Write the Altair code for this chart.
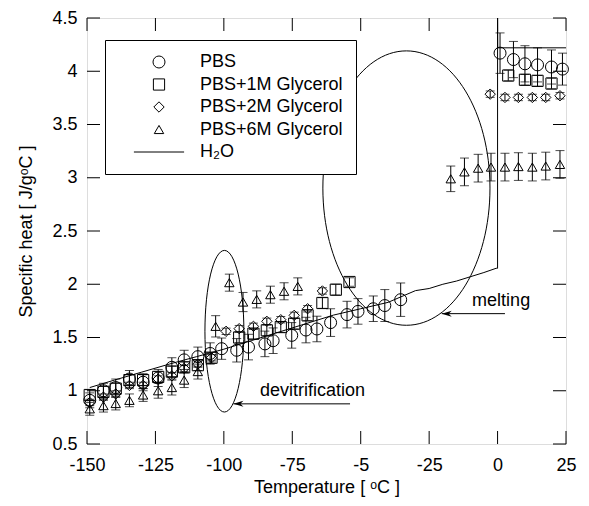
import altair as alt
import pandas as pd

FONT = "Liberation Sans"

# ---------------- data ----------------
series_names = ["PBS", "PBS+1M Glycerol", "PBS+2M Glycerol", "PBS+6M Glycerol", "H\u2082O"]

pbs_t = [-149, -144, -139.5, -134.5, -129.5, -124, -119, -114.5, -109.5, -105, -100.8, -95.3, -91,
         -85, -82, -75.2, -70, -66, -61, -55, -51, -45.4, -41.2, -35.4,
         0.9, 5.8, 10, 14.6, 19.7, 23.7]
pbs_v = [0.91, 1.0, 1.03, 1.11, 1.08, 1.12, 1.22, 1.29, 1.32, 1.35, 1.395, 1.38, 1.41,
         1.44, 1.47, 1.52, 1.57, 1.58, 1.64, 1.715, 1.745, 1.77, 1.80, 1.855,
         4.17, 4.11, 4.07, 4.06, 4.04, 4.02]
pbs_e = [0.07, 0.07, 0.08, 0.08, 0.08, 0.08, 0.09, 0.09, 0.09, 0.1, 0.1, 0.11, 0.12,
         0.12, 0.12, 0.12, 0.12, 0.12, 0.13, 0.125, 0.12, 0.12, 0.15, 0.157,
         0.19, 0.17, 0.17, 0.16, 0.16, 0.15]

g1_t = [-149, -144, -139.5, -134.5, -129.5, -124, -119, -114.5, -109.5, -104.5, -94.4, -89.2,
        -84.3, -79.2, -74.3, -69.4, -64, -59.1, -54.1, 3.9, 10, 14.6, 19.7]
g1_v = [0.96, 0.99, 1.02, 1.10, 1.10, 1.13, 1.18, 1.22, 1.24, 1.31, 1.50, 1.536,
        1.567, 1.598, 1.63, 1.708, 1.824, 1.949, 2.021, 3.96, 3.92, 3.91, 3.885]
g1_e = [0.05, 0.05, 0.05, 0.05, 0.05, 0.05, 0.05, 0.05, 0.05, 0.05, 0.05, 0.05,
        0.05, 0.05, 0.05, 0.05, 0.05, 0.05, 0.04, 0.05, 0.05, 0.05, 0.05]

g2_t = [-149, -144, -139.5, -134.5, -129.5, -124, -119, -114.5, -109.5, -104.5, -99.2, -94.4,
        -89.2, -84.3, -79.2, -74.3, -69.4, -64, -2.7, 2.7, 7.6, 12.7, 17.6, 22.8]
g2_v = [0.89, 0.94, 0.97, 1.05, 1.05, 1.11, 1.14, 1.21, 1.25, 1.31, 1.558, 1.583,
        1.605, 1.652, 1.667, 1.708, 1.77, 1.937, 3.785, 3.754, 3.754, 3.754, 3.754, 3.77]
g2_e = [0.03] * 24

g6_t = [-149, -144, -139.5, -134.5, -129.5, -124, -119, -114.5, -109.5, -103, -98, -93, -88,
        -83, -78, -73, -17.1, -12.1, -7.1, -2.4, 2.7, 7.6, 12.7, 17.6, 22.8]
g6_v = [0.83, 0.86, 0.88, 0.91, 0.96, 1.0, 1.03, 1.10, 1.18, 1.605, 2.015, 1.833, 1.858,
        1.902, 1.934, 1.98, 2.99, 3.055, 3.09, 3.10, 3.10, 3.105, 3.10, 3.11, 3.125]
g6_e = [0.06, 0.06, 0.06, 0.06, 0.06, 0.07, 0.07, 0.07, 0.07, 0.1, 0.08, 0.09, 0.08,
        0.08, 0.08, 0.08, 0.12, 0.13, 0.13, 0.13, 0.13, 0.13, 0.13, 0.13, 0.13]

h2o_t = [-149, -140, -130, -120, -110, -100, -90, -80, -70, -60, -50, -40, -30, -25, -20, -15,
         -10, -5, -0.5, 0, 0, 0.05, 25]
h2o_v = [1.03, 1.10, 1.175, 1.25, 1.32, 1.39, 1.47, 1.55, 1.63, 1.71, 1.77, 1.83, 1.94, 1.96,
         2.0, 2.03, 2.07, 2.11, 2.15, 2.15, 4.5, 4.22, 4.22]

x_ticks = [-150, -125, -100, -75, -50, -25, 0, 25]
x_tick_labels = ["-150", "-125", "-100", "-75", "-5", "-25", "0", "25"]
y_ticks = [0.5, 1, 1.5, 2, 2.5, 3, 3.5, 4, 4.5]
y_tick_labels = ["0.5", "1", "1.5", "2", "2.5", "3", "3.5", "4", "4.5"]

# annotations
ell_t = [-99.8, -33.3]
ell_v = [1.559, 2.903]
ell_shape = ["M-0.241,0A0.241,1 0 1,0 0.241,0A0.241,1 0 1,0 -0.241,0",
             "M-0.609,0A0.609,1 0 1,0 0.609,0A0.609,1 0 1,0 -0.609,0"]
ell_size = [26115, 75295]

arrow_tip_t = [-96.5, -20.4]
arrow_tail_t = [-53.9, 2.7]
arrow_v = [0.877, 1.724]

note_text = ["devitrification", "melting"]
note_t = [-86.8, -9.3]
note_v = [0.955, 1.80]

# ---------------- build tables ----------------
rows = []
for name, ts, vs, es in [(series_names[0], pbs_t, pbs_v, pbs_e),
                         (series_names[1], g1_t, g1_v, g1_e),
                         (series_names[2], g2_t, g2_v, g2_e),
                         (series_names[3], g6_t, g6_v, g6_e)]:
    for t, v, e in zip(ts, vs, es):
        rows.append({"series": name, "T": t, "v": v, "lo": v - e, "hi": v + e})
pts = pd.DataFrame(rows)
h2o = pd.DataFrame({"T": h2o_t, "v": h2o_v, "i": list(range(len(h2o_t)))})
ell = pd.DataFrame({"T": ell_t, "v": ell_v, "shape": ell_shape, "size": ell_size})
arr = pd.DataFrame({"T": arrow_tip_t, "T2": arrow_tail_t, "v": arrow_v})
notes = pd.DataFrame({"T": note_t, "v": note_v, "text": note_text})
xt = pd.DataFrame({"T": x_ticks})
yt = pd.DataFrame({"v": y_ticks})

W, H = 479, 426
TICK = 13

xlabel_expr = "[" + ",".join("'%s'" % s for s in x_tick_labels) + "][indexof([" + \
    ",".join(str(v) for v in x_ticks) + "], datum.value)]"
ylabel_expr = "[" + ",".join("'%s'" % s for s in y_tick_labels) + "][indexof([" + \
    ",".join(str(v) for v in y_ticks) + "], datum.value)]"

xscale = alt.Scale(domain=[-150, 25], nice=False, zero=False)
yscale = alt.Scale(domain=[0.5, 4.5], nice=False, zero=False)
xaxis = alt.Axis(values=x_ticks, labelExpr=xlabel_expr, title="Temperature [ \u1d52C ]",
                 grid=False, ticks=False, tickSize=0, domain=False, labelPadding=12,
                 labelFontSize=18, labelFont=FONT, labelColor="black",
                 titleFontSize=18, titleFont=FONT, titleFontWeight="normal",
                 titleColor="black", titlePadding=4, labelFlush=False)
yaxis = alt.Axis(values=y_ticks, labelExpr=ylabel_expr, title="Specific heat [ J/g\u1d52C ]",
                 grid=False, ticks=False, tickSize=0, domain=False, labelPadding=10,
                 labelFontSize=18, labelFont=FONT, labelColor="black",
                 titleFontSize=18, titleFont=FONT, titleFontWeight="normal",
                 titleColor="black", titlePadding=16, labelFlush=False)

X = alt.X("T:Q", scale=xscale, axis=xaxis)
Y = alt.Y("v:Q", scale=yscale, axis=yaxis)

base = alt.Chart(pts)

err = base.mark_rule(color="black", strokeWidth=1).encode(
    x=X, y=alt.Y("lo:Q", scale=yscale, axis=yaxis), y2="hi:Q")
cap_lo = base.mark_tick(orient="horizontal", size=9, thickness=1, color="black").encode(
    x=X, y=alt.Y("lo:Q", scale=yscale, axis=yaxis))
cap_hi = base.mark_tick(orient="horizontal", size=9, thickness=1, color="black").encode(
    x=X, y=alt.Y("hi:Q", scale=yscale, axis=yaxis))

legend = alt.Legend(title=None, orient="none", legendX=18, legendY=22,
                    strokeColor="black", fillColor="white", padding=13,
                    labelFontSize=18, labelFont=FONT, labelColor="black",
                    rowPadding=4.5, symbolOffset=32, labelOffset=32,
                    symbolStrokeColor="black", symbolStrokeWidth=1)

points = base.mark_point(filled=False, color="black", strokeWidth=1, opacity=1).encode(
    x=X, y=Y,
    shape=alt.Shape("series:N", scale=alt.Scale(
        domain=series_names,
        range=["circle", "square", "diamond", "triangle-up", "M-6,0H6"]),
        legend=legend),
    size=alt.Size("series:N", scale=alt.Scale(domain=series_names,
                                              range=[144, 70, 110, 81, 144]),
                  legend=legend),
)

line = alt.Chart(h2o).mark_line(color="black", strokeWidth=1).encode(
    x=X, y=Y, order="i:Q")

ellipses = alt.Chart(ell).mark_point(filled=False, color="black", strokeWidth=1,
                                     opacity=1).encode(
    x=X, y=Y, shape=alt.Shape("shape:N", scale=None),
    size=alt.Size("size:Q", scale=None))

arrow_line = alt.Chart(arr).mark_rule(color="black", strokeWidth=1).encode(
    x=X, x2="T2:Q", y=Y)
arrow_head = alt.Chart(arr).mark_point(filled=True, color="black", opacity=1,
                                       shape="M0,0L2,-0.6L1.4,0L2,0.6Z",
                                       size=100, strokeWidth=0).encode(x=X, y=Y)

texts = alt.Chart(notes).mark_text(font=FONT, fontSize=18, align="left",
                                   baseline="alphabetic", color="black").encode(
    x=X, y=Y, text="text:N")

tb = alt.Chart(xt).mark_rule(color="black", strokeWidth=1).encode(
    x=X, y=alt.value(H), y2=alt.value(H - TICK))
tt = alt.Chart(xt).mark_rule(color="black", strokeWidth=1).encode(
    x=X, y=alt.value(0), y2=alt.value(TICK))
tl = alt.Chart(yt).mark_rule(color="black", strokeWidth=1).encode(
    y=Y, x=alt.value(0), x2=alt.value(TICK))
tr = alt.Chart(yt).mark_rule(color="black", strokeWidth=1).encode(
    y=Y, x=alt.value(W), x2=alt.value(W - TICK))

chart = alt.layer(
    tb, tt, tl, tr, line, ellipses, arrow_line, arrow_head, texts,
    err, cap_lo, cap_hi, points
).properties(
    width=W, height=H,
    autosize=alt.AutoSizeParams(type="none"),
    padding={"left": 79, "top": 10, "right": 15, "bottom": 54},
).configure_view(
    stroke="black", strokeWidth=1.5
).configure(background="white")

chart.save("out.html", embed_options={"renderer": "svg", "actions": False})
